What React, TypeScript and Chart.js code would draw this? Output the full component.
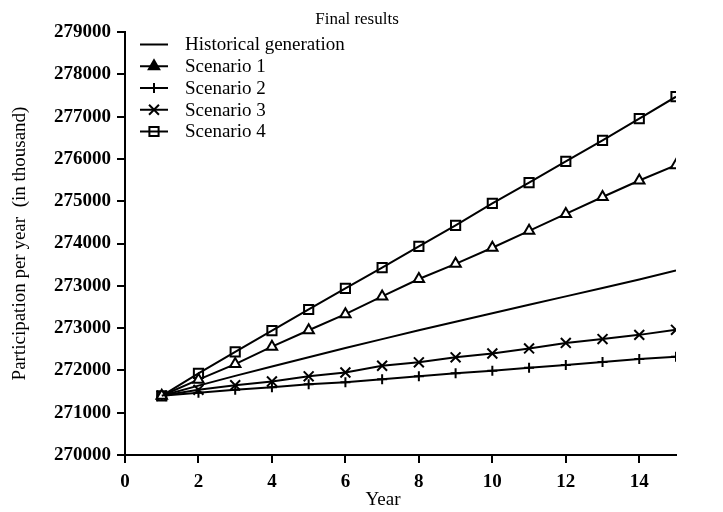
import React, { useEffect, useRef } from "react";
import { Chart, registerables } from "chart.js";
import { drawPoint } from "chart.js/helpers";

Chart.register(...registerables);

// ---- data (y in axis units) ----
const years = [1, 2, 3, 4, 5, 6, 7, 8, 9, 10, 11, 12, 13, 14, 15];
const historicalGeneration = [271400, 271640, 271870, 272090, 272310, 272530, 272740, 272950, 273150, 273350, 273550, 273750, 273950, 274150, 274360];
const scenario1 = [271400, 271780, 272150, 272560, 272950, 273330, 273750, 274160, 274520, 274900, 275300, 275700, 276100, 276490, 276850];
const scenario2 = [271400, 271470, 271540, 271600, 271670, 271720, 271790, 271860, 271930, 271990, 272060, 272130, 272200, 272270, 272320];
const scenario3 = [271400, 271540, 271650, 271740, 271860, 271950, 272110, 272190, 272310, 272400, 272520, 272650, 272740, 272840, 272960];
const scenario4 = [271400, 271930, 272440, 272940, 273440, 273940, 274430, 274930, 275430, 275950, 276440, 276940, 277440, 277950, 278470];

const seriesNames = ["Historical generation", "Scenario 1", "Scenario 2", "Scenario 3", "Scenario 4"];
const yTickLabels = ["270000", "271000", "272000", "273000", "273000", "274000", "275000", "276000", "277000", "278000", "279000"];
const yMin = 270000;
const yMax = 280000;
const yStep = 1000;
const xMin = 0;
const xMax = 15;
const xStep = 2;

const chartTitle = "Final results";
const xAxisTitle = "Year";
const yAxisTitle = "Participation per year  (in thousand)";

const SERIF = '"Liberation Serif", "Times New Roman", Times, serif';

const toPoints = (vals: number[]) => vals.map((v, i) => ({ x: years[i], y: v }));

const overlayPlugin = {
  id: "overlay",
  afterDraw(chart: any) {
    const { ctx, chartArea } = chart;
    const { left, top, right, bottom } = chartArea;
    ctx.save();
    ctx.fillStyle = "#000";
    ctx.strokeStyle = "#000";

    // Title
    ctx.font = `17px ${SERIF}`;
    ctx.textAlign = "center";
    ctx.textBaseline = "alphabetic";
    ctx.fillText(chartTitle, 357, 24);

    // X axis title
    ctx.font = `19px ${SERIF}`;
    ctx.fillText(xAxisTitle, 383, 505);

    // Y axis title
    ctx.save();
    ctx.translate(20, (top + bottom) / 2);
    ctx.rotate(-Math.PI / 2);
    ctx.textAlign = "center";
    ctx.textBaseline = "middle";
    ctx.fillText(yAxisTitle, 0, 0);
    ctx.restore();

    // Legend
    chart.data.datasets.forEach((ds: any, i: number) => {
      const y = top + 12.5 + 21.75 * i;
      ctx.lineWidth = 2;
      ctx.strokeStyle = "#000";
      ctx.beginPath();
      ctx.moveTo(left + 15, y);
      ctx.lineTo(left + 43, y);
      ctx.stroke();
      if (ds.pointRadius > 0) {
        ctx.fillStyle = ds.legendFill;
        ctx.strokeStyle = "#000";
        ctx.lineWidth = 2;
        drawPoint(ctx, { pointStyle: ds.pointStyle, radius: ds.pointRadius, rotation: 0, borderWidth: 2 } as any, left + 29, y);
      }
      ctx.fillStyle = "#000";
      ctx.font = `19px ${SERIF}`;
      ctx.textAlign = "left";
      ctx.textBaseline = "middle";
      ctx.fillText(ds.label, left + 60, y + 1);
    });
    ctx.restore();
  },
};

export default function App() {
  const canvasRef = useRef<HTMLCanvasElement | null>(null);

  useEffect(() => {
    if (!canvasRef.current) return;
    const base = {
      borderColor: "#000",
      borderWidth: 2,
      pointBorderColor: "#000",
      pointBorderWidth: 2,
      tension: 0,
      fill: false,
    };
    const axisGrid = {
      drawOnChartArea: false,
      drawTicks: true,
      tickLength: 8,
      tickWidth: 2,
      tickColor: "#000",
      color: "#000",
      lineWidth: 2,
    };
    const tickFont = { family: SERIF, size: 19, weight: "bold" as const };

    const chart = new Chart(canvasRef.current, {
      type: "line",
      data: {
        datasets: [
          { ...base, label: seriesNames[0], data: toPoints(historicalGeneration), pointRadius: 0, pointStyle: "circle", legendFill: "#000" } as any,
          { ...base, label: seriesNames[1], data: toPoints(scenario1), pointStyle: "triangle", pointRadius: 6, pointBackgroundColor: "#fff", legendFill: "#000" } as any,
          { ...base, label: seriesNames[2], data: toPoints(scenario2), pointStyle: "cross", pointRadius: 5, pointBackgroundColor: "rgba(0,0,0,0)", legendFill: "rgba(0,0,0,0)" } as any,
          { ...base, label: seriesNames[3], data: toPoints(scenario3), pointStyle: "crossRot", pointRadius: 7, pointBackgroundColor: "rgba(0,0,0,0)", legendFill: "rgba(0,0,0,0)" } as any,
          { ...base, label: seriesNames[4], data: toPoints(scenario4), pointStyle: "rect", pointRadius: 6.5, pointBackgroundColor: "rgba(0,0,0,0)", legendFill: "rgba(0,0,0,0)" } as any,
        ],
      },
      options: {
        animation: false,
        responsive: false,
        devicePixelRatio: 1,
        layout: { padding: { top: 32, right: 47, left: 0, bottom: 0 } },
        plugins: {
          legend: { display: false },
          title: { display: false },
          tooltip: { enabled: false },
        },
        elements: { point: { hitRadius: 0, hoverRadius: 0 } },
        scales: {
          x: {
            type: "linear",
            min: xMin,
            max: xMax,
            afterFit: (s: any) => {
              s.height = 57;
            },
            ticks: {
              stepSize: xStep,
              includeBounds: false,
              color: "#000",
              font: tickFont,
              padding: 8,
              maxRotation: 0,
              autoSkip: false,
            },
            grid: axisGrid,
            border: { display: true, color: "#000", width: 2 },
          },
          y: {
            type: "linear",
            min: yMin,
            max: yMax,
            afterFit: (s: any) => {
              s.width = 125;
            },
            ticks: {
              stepSize: yStep,
              color: "#000",
              font: tickFont,
              padding: 6,
              autoSkip: false,
              callback: (_v: any, i: number) => yTickLabels[i],
            },
            grid: axisGrid,
            border: { display: true, color: "#000", width: 2 },
          },
        },
      } as any,
      plugins: [overlayPlugin],
    });
    return () => chart.destroy();
  }, []);

  return (
    <div style={{ position: "fixed", left: 0, top: 0, width: 723, height: 512, background: "#fff" }}>
      <canvas ref={canvasRef} width={723} height={512} style={{ width: 723, height: 512, display: "block" }} />
    </div>
  );
}
